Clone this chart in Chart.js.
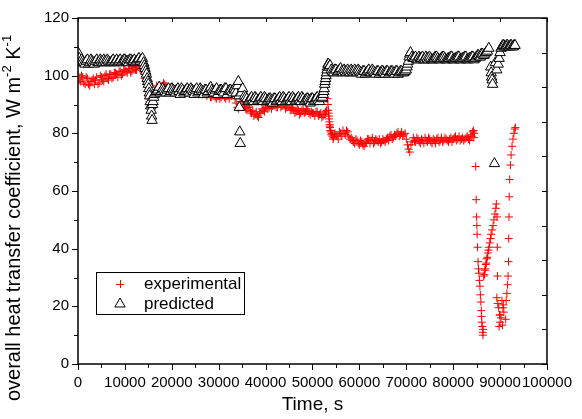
<!DOCTYPE html>
<html>
<head>
<meta charset="utf-8">
<script src="https://cdn.jsdelivr.net/npm/chart.js@4.4.0/dist/chart.umd.min.js"></script>
<style>
html, body { margin: 0; padding: 0; background: #fff; }
</style>
</head>
<body>
<canvas id="myChart" width="582" height="419"></canvas>
<script>
var F = '"Liberation Sans", Arial, sans-serif';

var xTicks = [0, 10000, 20000, 30000, 40000, 50000, 60000, 70000, 80000, 90000, 100000];
var yTicks = [0, 20, 40, 60, 80, 100, 120];

// experimental, time in s
var expTime = [
  0,500,1000,1500,2000,2500,3000,3500,4000,4500,
  5000,5500,6000,6500,7000,7500,8000,8500,9000,9500,
  10000,10500,11000,11500,12000,12500,13000,13500,14000,14500,
  15000,15500,16000,16500,17000,17500,18000,18500,19000,19500,
  20000,20500,21000,21500,22000,22500,23000,23500,24000,24500,
  25000,25500,26000,26500,27000,27500,28000,28500,29000,29500,
  30000,30500,31000,31500,32000,32500,33000,33500,34000,34500,
  35000,35500,36000,36500,37000,37500,38000,38500,39000,39500,
  40000,40500,41000,41500,42000,42500,43000,43500,44000,44500,
  45000,45500,46000,46500,47000,47500,48000,48500,49000,49500,
  50000,50500,51000,51500,52000,52500,53000,53200,53300,53400,
  53500,53600,53700,53800,54000,54250,54500,55000,55500,56000,
  56500,57000,57500,58000,58500,59000,59500,60000,60500,61000,
  61500,62000,62500,63000,63500,64000,64500,65000,65500,66000,
  66500,67000,67500,68000,68500,69000,69500,70000,70500,71000,
  71500,72000,72500,73000,73500,74000,74500,75000,75500,76000,
  76500,77000,77500,78000,78500,79000,79500,80000,80500,81000,
  81500,82000,82500,83000,83500,84000,84300,84500,
  84800,84900,85000,85050,85100,85200,85300,85400,85500,85600,
  85700,85800,85900,86000,86050,86100,86200,86300,86350,86400,
  86500,86650,86750,86850,86950,87050,87150,87300,87400,87500,
  87650,87800,87950,88100,88300,88500,88700,88900,89100,89200,
  89350,89400,89450,
  89300,89500,89700,89900,90000,89800,90200,90400,90600,90800,90000,91200,90500,90700,
  91300,91450,91600,91700,91800,91850,91900,91950,92050,92200,92350,92550,92750,92950,93150,93250
];
var expValue = [
  100.5,98,99.5,97,99,96.5,98.5,97,99.5,97.5,
  99.5,98,100.5,98.5,100.5,99.5,101,99.5,101.5,100.5,
  102,101,102.5,101.5,103,102,103.5,102.5,101,97,
  92,90.5,93,95,96,95,96.5,97,96,95.5,
  95,94.5,95,94,94.5,95,94,95.5,94,95,
  94.5,95,94,93.5,94.5,93,93.5,92.5,93,92,
  93,92.5,93.5,92,93,94,93.5,92,89,90,
  91,89.5,88,89,87,86,87.5,85.5,87,88,
  89,88.5,90,89.5,90,89,90.5,89.5,90,89,
  89.5,88.5,88,87.5,88,87,88.5,87.5,88,86.5,
  87,86,87.5,86.5,85.5,86.5,88,92,90,88,
  86,84,82.5,81,79.5,79,78.5,79.5,78,80,
  81,79.5,80.5,78,77.5,76.5,77.5,76,77,75.5,
  77,78,77.5,76.5,78,77,76.5,78,77,78.5,
  79,78,79.5,80,79,80.5,79.5,78,74.5,76,
  78.5,77,78,76.5,77.5,78.5,77,78,76.5,77.5,
  78,77,78.5,77.5,78,77,78.5,78,79,78,
  77.5,78.5,78,79,77.5,79,81,80,
  68.5,57,51,48,45,40.5,35.5,33,31.5,29,
  27,24,21.5,18.5,16.5,14.5,13,11,10,12,
  30.5,31,32.5,33,34.5,35,36.5,37,38.5,39.5,
  40.5,42,43.5,45,46.5,48,50,52,54,55.5,
  51,40.5,30.5,
  23,21,19.5,17,14.5,13,16,22,19.5,18,17,15.5,13.5,20.5,
  22,24.5,27.5,30.5,35.5,43.5,51,58,64,69,72.5,75.5,78,80,81.5,82
];
// experimental, in-between samples
var expTime2 = [
  250,750,1250,1750,2250,2750,3250,3750,4250,4750,
  5250,5750,6250,6750,7250,7750,8250,8750,9250,9750,
  10250,10750,11250,11750,12250,12750,13250,13750,14250,14750,
  15250,15750,16250,16750,17250,17750,18250,18750,19250,19750,
  20250,20750,21250,21750,22250,22750,23250,23750,24250,24750,
  25250,25750,26250,26750,27250,27750,28250,28750,29250,29750,
  30250,30750,31250,31750,32250,32750,33250,33750,34250,34750,
  35250,35750,36250,36750,37250,37750,38250,38750,39250,39750,
  40250,40750,41250,41750,42250,42750,43250,43750,44250,44750,
  45250,45750,46250,46750,47250,47750,48250,48750,49250,49750,
  50250,50750,51250,51750,52250,52750,53450,53550,53650,53750,
  53900,54125,54375,54750,55250,55750,56250,56750,57250,57750,
  58250,58750,59250,59750,60250,60750,61250,61750,62250,62750,
  63250,63750,64250,64750,65250,65750,66250,66750,67250,67750,
  68250,68750,69250,69750,70250,70750,71250,71750,72250,72750,
  73250,73750,74250,74750,75250,75750,76250,76750,77250,77750,
  78250,78750,79250,79750,80250,80750,81250,81750,82250,82750,
  83250,83750,84150,84400
];
var expValue2 = [
  98.5,100,97.5,99.5,97,98,99,98.5,97,100,
  98.5,100,99,100.5,99,101,100.5,101.5,100,102,
  101.5,102.5,101,103,102,103.5,102.5,103.5,99,94.5,
  91,92,94,96.5,95.5,96,97.5,96,95,96,
  94,95.5,94.5,95,94,94.5,95,94.5,95.5,94,
  95,93.5,94.5,94,93.5,94,92.5,93.5,92.5,93,
  92,93.5,92.5,93,92,93,94,90.5,88.5,91,
  90,88.5,89.5,87.5,88,86.5,86,87,88.5,87.5,
  89.5,89,88.5,90.5,89,90,89,90.5,88.5,90,
  88,89,87,88.5,86.5,88,87,88.5,87,87.5,
  87,87.5,86,87,86,87.5,87,85,83,82,
  80.5,80,78,80,79,80.5,79,80,81,79,
  78.5,77,78,76.5,77.5,76,76.5,78,76.5,78.5,
  77,77.5,78,77,77.5,78,77.5,79.5,78.5,79,
  80.5,79.5,79,80,76,73.5,77,77.5,78.5,77,
  78,76.5,77.5,78.5,77,78,76.5,78.5,77.5,77,
  78.5,77.5,78,77,78.5,77.5,79,78,77.5,78.5,
  78,79.5,80.5,78.5
];

// predicted
var predTime = [
  0,250,500,1000,1500,2000,2500,3000,3500,4000,
  4500,5000,5500,6000,6500,7000,7500,8000,8500,9000,
  9500,10000,10500,11000,11500,12000,12500,13000,13500,14000,
  14300,14600,14900,15100,15300,15500,15700,15800,16000,16300,
  16800,17300,17800,18300,18800,19300,19800,20300,20800,21300,
  21800,22300,22800,23300,23800,24300,24800,25300,25800,26300,
  26800,27300,27800,28300,28800,29300,29800,30300,30800,31300,
  31800,32300,32800,33300,33700,34000,34200,34300,34400,34500,
  34600,34800,35100,35500,36000,36500,37000,37500,38000,38500,
  39000,39500,40000,40500,41000,41500,42000,42500,43000,43500,
  44000,44500,45000,45500,46000,46500,47000,47500,48000,48500,
  49000,49500,50000,50500,51000,51500,52000,52300,52500,52700,
  52900,53100,53300,53500,54000,54500,55000,55500,56000,56500,
  57000,57500,58000,58500,59000,59500,60000,60500,61000,61500,
  62000,62500,63000,63500,64000,64500,65000,65500,66000,66500,
  67000,67500,68000,68500,69000,69500,70000,70300,70600,70900,
  71200,71700,72200,72700,73200,73700,74200,74700,75200,75700,
  76200,76700,77200,77700,78200,78700,79200,79700,80200,80700,
  81200,81700,82200,82700,83200,83700,84200,84700,85200,85600,
  86000,86500,87000,87600,88000,88200,88400,88800,89000,89300,
  89600,90000,90400,90800,91200,91600,92000,92400,92800,93200
];
var predValue = [
  108,106,104.5,105,104,105.5,104.5,105,104,105.5,
  104.5,105,105.5,104.5,105,104.5,105.5,105,104.5,105.5,
  105,105.5,105,105.5,105,105.5,105,106,105.5,104.5,
  102.5,100.5,98,95.5,93,89.5,86,84.5,91,93.5,
  94.5,96,94.5,95,94,95.5,94.5,95,94,95.5,
  93.5,95,94.5,95.5,94,95,93.5,95.5,94.5,95,
  93.5,95,94.5,96,94.5,95,93.5,95,94.5,95.5,
  93.5,95,94.5,95.5,94,96.5,98,93,89,80.5,
  76.5,94,95.5,93,92,91.5,92.5,91,92,91.5,
  92.5,91,92,91.5,92,90.5,92,91.5,92.5,91,
  92,91.5,92.5,91,92,91.5,92.5,91,92,91.5,
  92,90.5,92,91.5,92.5,91,92,93.5,95.5,98,
  100,102,104,103,102,101,102,101.5,102.5,101,
  101.5,102,101,101.5,102,101,101.5,100.5,101.5,101,
  102,101,101.5,100.5,101.5,101,101.5,100.5,101.5,101,
  101.5,100.5,101.5,101,101.5,101,102,104,106.5,108,
  106.5,106,105.5,106.5,106,105.5,106.5,105.5,106,105.5,
  106.5,106,105.5,106.5,106,105.5,106,106.5,105.5,106,
  106.5,105.5,106,106.5,105.5,106,106.5,106,107,106.5,
  107.5,107,108,109.5,103,99.5,97,69.5,104.5,102,
  104,108,110,110.5,110,110.5,110,110.5,110,110.5
];
// predicted, in-between samples
var predTime2 = [
  750,1250,1750,2250,2750,3250,3750,4250,4750,5250,
  5750,6250,6750,7250,7750,8250,8750,9250,9750,10250,
  10750,11250,11750,12250,12750,13250,13750,14150,14450,14750,
  15000,15200,15400,15600,15900,16150,16550,17050,17550,18050,
  18550,19050,19550,20050,20550,21050,21550,22050,22550,23050,
  23550,24050,24550,25050,25550,26050,26550,27050,27550,28050,
  28550,29050,29550,30050,30550,31050,31550,32050,32550,33050,
  33500,35750,36250,36750,37250,37750,38250,38750,39250,39750,
  40250,40750,41250,41750,42250,42750,43250,43750,44250,44750,
  45250,45750,46250,46750,47250,47750,48250,48750,49250,49750,
  50250,50750,51250,51750,52150,52400,52600,52800,53000,53200,
  53400,53750,54250,54750,55250,55750,56250,56750,57250,57750,
  58250,58750,59250,59750,60250,60750,61250,61750,62250,62750,
  63250,63750,64250,64750,65250,65750,66250,66750,67250,67750,
  68250,68750,69250,69750,70150,70450,70750,71450,71950,72450,
  72950,73450,73950,74450,74950,75450,75950,76450,76950,77450,
  77950,78450,78950,79450,79950,80450,80950,81450,81950,82450,
  82950,83450,83950,84450,84950,85400,85800,86250,86750,87300,
  88100,88300,89800,90200,90600,91000,91400,91800,92200,92600,
  93000
];
var predValue2 = [
  105.5,104.5,105,104,105.5,104.5,105,104.5,105.5,104.5,
  105,105.5,104.5,105,104.5,105.5,105,104.5,105.5,105,
  104.5,105.5,105,104.5,105.5,105,106,103.5,101.5,99,
  97,94,91,88,90,92.5,94,95,94,95.5,
  94.5,95,94,95.5,94.5,95,94.5,95.5,94,95,
  94.5,95.5,94.5,95,94,95.5,94.5,95,94,95.5,
  95,94,95.5,94.5,95,94,95.5,94.5,95,94,
  95,92.5,91,92,91.5,92.5,91,92,91.5,92.5,
  91,92,91.5,92,91,92,91.5,92.5,91,92,
  91.5,92.5,91,92,91.5,92.5,91,92,91.5,92,
  91,92,91.5,92.5,92.5,94.5,97,99,101,103,
  104,103.5,101.5,102,101,102,101.5,102,101,101.5,
  102,101,101.5,102,101,101.5,100.5,101.5,101,102,
  101,101.5,100.5,101.5,101,101.5,100.5,101.5,101,101.5,
  100.5,101.5,101,101.5,103,105,107.5,106,106.5,105.5,
  106,106.5,105.5,106,106.5,105.5,106,106.5,105.5,106,
  106.5,105.5,106,106.5,105.5,106,106.5,105.5,106,106.5,
  105.5,106,106.5,105.5,106.5,107,106.5,107.5,107.5,108.5,
  101,98.5,106,109.5,110.5,110,110.5,110,110.5,110,
  110.5
];

// merge two sample lists and put them in time order, so the markers overlap left to right
function toPoints(t, v, t2, v2) {
  var p = [];
  for (var i = 0; i < t.length; i++) p.push({x: t[i], y: v[i]});
  for (var j = 0; j < t2.length; j++) p.push({x: t2[j], y: v2[j]});
  p.sort(function(a, b) { return a.x - b.x; });
  return p;
}

// frame, inner ticks, titles and the boxed legend
var frame = {
  id: 'frame',
  afterDraw: function(chart) {
    var c = chart.ctx, a = chart.chartArea;
    var xs = chart.scales.x, ys = chart.scales.y;
    c.save();
    c.strokeStyle = '#000';
    c.lineWidth = 1.5;
    c.strokeRect(a.left, a.top, a.right - a.left, a.bottom - a.top);
    c.lineWidth = 1;
    c.beginPath();
    for (var v = 0; v <= 100000; v += 5000) {
      var px = Math.round(xs.getPixelForValue(v)) + 0.5;
      var len = v % 10000 == 0 ? 6 : 4;
      c.moveTo(px, a.bottom); c.lineTo(px, a.bottom + len);
      if (v % 10000 == 0) { c.moveTo(px, a.top); c.lineTo(px, a.top + 4); }
    }
    for (var v = 0; v <= 120; v += 10) {
      var py = Math.round(ys.getPixelForValue(v)) + 0.5;
      var len = v % 20 == 0 ? 6 : 4;
      c.moveTo(a.left, py); c.lineTo(a.left - len, py);
    }
    for (var i = 0; i <= 10; i++) {
      var py = Math.round(a.top + (a.bottom - a.top) * i / 10) + 0.5;
      c.moveTo(a.right, py); c.lineTo(a.right - 5, py);
    }
    c.stroke();

    // x title
    c.fillStyle = '#000';
    c.font = '19px ' + F;
    c.textAlign = 'center';
    c.textBaseline = 'middle';
    c.fillText('Time, s', (a.left + a.right) / 2, 405);

    // y title with superscripts
    var parts = [['overall heat transfer coefficient, W m', 20, 0], ['-2', 13, -7], [' K', 20, 0], ['-1', 13, -7]];
    var total = 0;
    parts.forEach(function(p) { c.font = p[1] + 'px ' + F; p.push(c.measureText(p[0]).width); total += p[3]; });
    c.save();
    c.translate(14, 218);
    c.rotate(-Math.PI / 2);
    c.textAlign = 'left';
    var x0 = -total / 2;
    parts.forEach(function(p) {
      c.font = p[1] + 'px ' + F;
      c.fillText(p[0], x0, p[2]);
      x0 += p[3];
    });
    c.restore();

    // legend
    c.lineWidth = 1;
    c.strokeStyle = '#000';
    c.strokeRect(96.5, 272.5, 148, 42);
    c.strokeStyle = 'rgb(255,0,0)';
    c.beginPath();
    c.moveTo(116, 284.5); c.lineTo(124, 284.5);
    c.moveTo(120.5, 280); c.lineTo(120.5, 288);
    c.stroke();
    c.strokeStyle = '#000';
    c.fillStyle = '#fff';
    Chart.helpers.drawPoint(c, {pointStyle: 'triangle', radius: 6, borderWidth: 1}, 120, 304);
    c.fillStyle = '#000';
    c.font = '17px ' + F;
    c.textAlign = 'left';
    c.textBaseline = 'middle';
    c.fillText('experimental', 144, 284);
    c.fillText('predicted', 144, 304);
    c.restore();
  }
};

var ctx = document.getElementById('myChart').getContext('2d');
var chart = new Chart(ctx, {
  type: 'scatter',
  data: {
    datasets: [{
      label: 'experimental',
      data: toPoints(expTime, expValue, expTime2, expValue2),
      pointStyle: 'cross',
      pointRadius: 4,
      borderWidth: 1,
      borderColor: 'rgb(255,0,0)',
      backgroundColor: 'rgb(255,0,0)',
      order: 2
    }, {
      label: 'predicted',
      data: toPoints(predTime, predValue, predTime2, predValue2),
      pointStyle: 'triangle',
      pointRadius: 6,
      borderWidth: 1,
      borderColor: '#000',
      backgroundColor: '#fff',
      order: 1
    }]
  },
  options: {
    responsive: false,
    animation: false,
    events: [],
    layout: { padding: { top: 18, right: 28, left: 0, bottom: 0 } },
    plugins: { legend: { display: false }, tooltip: { enabled: false } },
    scales: {
      x: {
        type: 'linear',
        min: 0,
        max: 100000,
        grid: { display: false, drawTicks: false },
        border: { display: false },
        afterBuildTicks: function(s) { s.ticks = xTicks.map(function(v) { return {value: v}; }); },
        afterFit: function(s) { s.height = 55; },
        ticks: {
          autoSkip: false,
          maxRotation: 0,
          minRotation: 0,
          padding: 10,
          color: '#000',
          font: { size: 15, family: F },
          callback: function(value) { return String(value); }
        }
      },
      y: {
        type: 'linear',
        min: 0,
        max: 120,
        grid: { display: false, drawTicks: false },
        border: { display: false },
        afterBuildTicks: function(s) { s.ticks = yTicks.map(function(v) { return {value: v}; }); },
        afterFit: function(s) { s.width = 78; },
        ticks: {
          padding: 9,
          color: '#000',
          font: { size: 15, family: F },
          callback: function(value) { return String(value); }
        }
      }
    }
  },
  plugins: [frame]
});
</script>
</body>
</html>
